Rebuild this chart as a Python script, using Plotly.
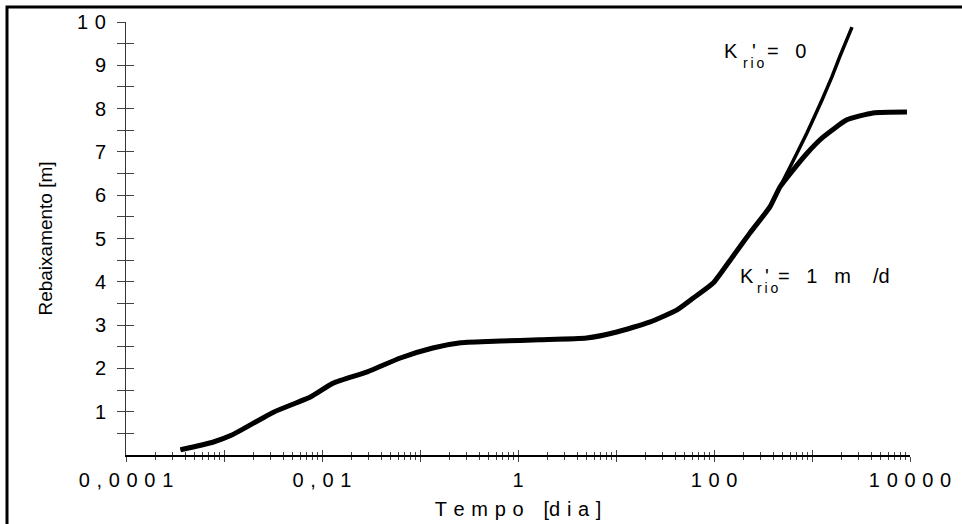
import plotly.graph_objects as go

# ---- data ----
time_common = [3.6e-4, 7.8e-4, 1.2e-3, 3.2e-3, 7.6e-3, 0.013, 0.029, 0.063, 0.135,
               0.26, 0.66, 1.66, 5.0, 10.2, 22, 42, 62, 98, 155, 233, 372, 471]
draw_common = [0.12, 0.30, 0.46, 0.99, 1.34, 1.66, 1.92, 2.24, 2.47,
               2.59, 2.63, 2.66, 2.70, 2.84, 3.07, 3.35, 3.63, 3.97, 4.58, 5.13, 5.73, 6.19]

time_k0 = [597, 890, 1265, 1600, 1930, 2560]
draw_k0 = [6.65, 7.44, 8.20, 8.74, 9.21, 9.88]

time_k1 = [640, 890, 1295, 2275, 4190, 9310]
draw_k1 = [6.58, 6.97, 7.34, 7.74, 7.90, 7.92]

x_major = [1e-4, 1e-3, 1e-2, 1e-1, 1, 10, 100, 1000, 10000]
x_labels = ["0,0001", "", "0,01", "", "1", "", "100", "", "10000"]
y_vals = [0.5, 1, 1.5, 2, 2.5, 3, 3.5, 4, 4.5, 5, 5.5, 6, 6.5, 7, 7.5, 8, 8.5, 9, 9.5, 10]
y_labels = ["", "1", "", "2", "", "3", "", "4", "", "5", "", "6", "", "7", "", "8", "", "9", "", "10"]

SP = "\u2004"
THIN = "\u2009"
NB = "\u00a0"


def spaced(s, sep=SP):
    return sep.join(list(s))


x_minor = [m * d for d in [1e-4, 1e-3, 1e-2, 1e-1, 1, 10, 100, 1000] for m in range(2, 10)]

FONT = "Liberation Sans, Arial, sans-serif"

# plot-area geometry (pixels) used to place the text labels
L, R, T, B = 126, 52, 22, 69
W, H = 962, 524
PW, PH = W - L - R, H - T - B


def px_x(px):
    return -4 + 8 * (px - L) / PW


def px_y(py):
    return 10 * (H - B - py) / PH


fig = go.Figure()
fig.add_trace(go.Scatter(x=time_common + time_k1, y=draw_common + draw_k1, mode="lines",
                         line=dict(color="black", width=5, shape="spline", smoothing=0.5),
                         showlegend=False))
fig.add_trace(go.Scatter(x=time_common + time_k0, y=draw_common + draw_k0, mode="lines",
                         line=dict(color="black", width=3.5, shape="spline", smoothing=0.5),
                         showlegend=False))
# empty trace to host the overlay axes (inside half of crossing ticks)
fig.add_trace(go.Scatter(x=[], y=[], xaxis="x2", yaxis="y2", showlegend=False))

common_x = dict(type="log", range=[-4, 4], showgrid=False, zeroline=False,
                tickvals=x_major, automargin=False)
common_y = dict(range=[0, 10], showgrid=False, zeroline=False, tickvals=y_vals,
                automargin=False)

fig.update_layout(
    width=W, height=H,
    margin=dict(l=L, r=R, t=T, b=B),
    paper_bgcolor="white", plot_bgcolor="white",
    font=dict(family=FONT, color="black", size=20),
    xaxis=dict(**common_x, ticktext=[spaced(t) for t in x_labels],
               showline=True, linecolor="black", linewidth=1.5,
               ticks="outside", ticklen=5, tickcolor="#444", tickwidth=1,
               minor=dict(tickvals=x_minor, ticks="outside", ticklen=3, tickcolor="#444", tickwidth=1),
               tickfont=dict(size=20), ticklabelstandoff=1,
               title=dict(text=spaced("Tempo") + SP * 3 + "[" + spaced("dia") + SP + "]",
                          font=dict(size=20), standoff=12)),
    yaxis=dict(**common_y, ticktext=[spaced(t) for t in y_labels],
               showline=True, linecolor="#333", linewidth=1,
               ticks="outside", ticklen=8, tickcolor="#444", tickwidth=1,
               tickfont=dict(size=20), ticklabelstandoff=7,
               title=dict(text="Rebaixamento [m]", font=dict(size=19), standoff=19)),
    xaxis2=dict(**common_x, overlaying="x", anchor="y2", side="bottom",
                showline=False, showticklabels=False,
                ticks="inside", ticklen=5, tickcolor="#444", tickwidth=1,
                minor=dict(tickvals=x_minor, ticks="inside", ticklen=3, tickcolor="#444", tickwidth=1)),
    yaxis2=dict(**common_y, overlaying="y", anchor="x2", side="left",
                showline=False, showticklabels=False,
                ticks="inside", ticklen=8, tickcolor="#444", tickwidth=1),
)


def label(px, py, text, size=20):
    fig.add_annotation(x=px_x(px), y=px_y(py), xref="x", yref="y",
                       xanchor="left", yanchor="middle", text=text, showarrow=False,
                       font=dict(family=FONT, size=size, color="black"))


# K'rio = 0
label(721.5, 50.5, "K")
label(750, 50.5, "'")
label(741, 63, spaced("rio", THIN), size=14)
label(765, 50.5, "=" + NB * 3 + "0")
# K'rio = 1 m/d
label(737.5, 275.5, "K")
label(763, 275.5, "'")
label(755, 288, spaced("rio", THIN), size=14)
label(776, 275.5, "=" + NB * 3 + "1" + NB * 3 + "m" + NB * 4 + "/d")

# outer frame of the figure
fig.add_shape(type="rect", xref="paper", yref="paper",
              x0=(7 - L) / PW, x1=(968 - L) / PW,
              y0=(H - B - 530) / PH, y1=(H - B - 7) / PH,
              line=dict(color="black", width=3), fillcolor="rgba(0,0,0,0)", layer="above")

fig.write_html("out.html", config={"displayModeBar": False},
               post_script="document.body.style.margin='0px';")
